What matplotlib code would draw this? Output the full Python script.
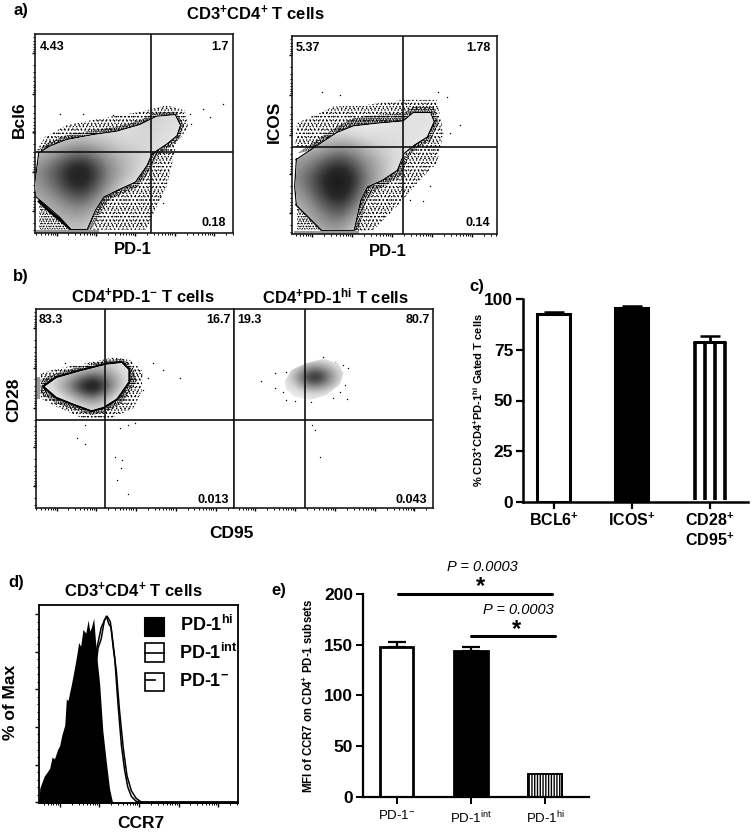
import matplotlib
matplotlib.use('Agg')
import matplotlib.pyplot as plt
from matplotlib.patches import Polygon, Rectangle
from matplotlib.colors import LinearSegmentedColormap
import numpy as np

plt.rcParams['font.family'] = ['Liberation Sans', 'DejaVu Sans']
plt.rcParams['mathtext.default'] = 'regular'

W, H = 755, 833
flow_cmap = LinearSegmentedColormap.from_list('flow', ['white', '#d8d8d8', '#8a8a8a', '#2a2a2a', 'black'])

### flow panels: everything is in channel units of the scan (x, y) ###
a1_outline = [(118,460),(150,440),(200,420),(280,405),(350,395),(420,375),(470,350),(525,345),(540,375),(530,405),(500,430),(455,460),(440,495),(405,545),(350,570),(310,590),(285,630),(260,688),(215,688),(180,650),(140,615),(110,590),(105,560)]
a1_cloud = [(112,450),(135,410),(200,375),(300,355),(420,335),(500,315),(555,330),(565,380),(530,430),(515,500),(500,560),(470,620),(440,690),(280,690),(300,600),(400,520),(300,500)]
a1_band = [(112,450),(150,425),(200,405),(280,390),(350,380),(420,360),(470,335),(530,335),(552,375),(540,415),(510,440),(470,470),(455,505),(415,560),(360,585),(325,600),(300,640),(275,690),(260,690),(285,630),(310,590),(405,545),(455,460),(300,450)]
a1_corner = [(118,605),(150,635),(215,690),(118,690)]
a1_strip = [(112,693),(290,693)]
a1_density = [[0,0,.1,.15,.2,.3,.2],
              [.2,.3,.35,.28,.22,.25,.15],
              [.5,.72,1,.6,.38,.2,0],
              [.3,.45,.62,.35,.05,0,0],
              [.3,.25,.3,.1,0,0,0]]
a1_stray = [(610,325),(630,350),(670,310),(575,370),(570,340),(480,590),(490,610),(430,640),(420,670),(540,400),(180,340),(250,340),(340,345)]

a2_outline = [(890,480),(950,440),(1010,400),(1060,380),(1130,372),(1210,365),(1240,340),(1290,340),(1300,365),(1280,410),(1240,435),(1210,460),(1190,510),(1145,540),(1100,560),(1080,600),(1060,690),(965,690),(890,615),(885,560)]
a2_cloud = [(885,440),(890,370),(1000,320),(1100,315),(1210,300),(1310,300),(1330,400),(1310,490),(1260,540),(1190,620),(1120,690),(1060,695),(1080,560),(1190,500)]
a2_band = [(892,460),(950,420),(1010,380),(1060,355),(1130,345),(1210,340),(1240,320),(1300,320),(1315,365),(1295,420),(1250,445),(1225,470),(1205,525),(1160,555),(1120,575),(1095,615),(1075,690),(1060,690),(1080,600),(1100,560),(1190,510),(1240,435),(1050,430)]
a2_corner = [(890,615),(925,650),(965,690),(890,690)]
a2_strip = [(885,697),(1070,697)]
a2_density = [[0,0,0,0,.1,.2,.18],
              [.3,.32,.45,.32,.25,.2,.1],
              [.5,.78,1,.6,.32,0,0],
              [.25,.48,.7,.3,0,0,0],
              [.25,.3,.3,0,0,0,0]]
a2_stray = [(965,275),(1020,285),(1270,605),(1380,375),(1340,290),(1315,275),(1350,400),(1290,560),(1230,600),(1150,650)]

b1_outline = [(135,365),(170,340),(240,320),(320,300),(365,295),(385,315),(385,350),(350,400),(310,425),(275,435),(220,415),(170,395)]
b1_cloud = [(122,325),(180,310),(260,295),(340,278),(390,285),(430,320),(425,380),(400,430),(330,460),(250,460),(170,425),(122,400)]
b1_band = [(122,345),(170,325),(240,305),(320,287),(370,282),(400,310),(410,350),(365,415),(320,440),(275,450),(210,430),(160,410),(122,385)]
b1_strip = [(115,340),(115,395)]
b1_density = [[0,.05,.1,.2,.25,.1],
              [.05,.2,.38,.6,.38,.1],
              [.1,.25,.6,1,.45,.1],
              [0,.1,.32,.55,.2,0],
              [0,0,.1,.25,.1,0]]
b1_stray = [(460,295),(490,315),(540,340),(230,520),(255,538),(255,480),(345,575),(365,585),(362,608),(350,645),(385,685),(360,490),(385,480),(405,475),(430,375),(445,340),(195,295)]

b2_outline = [(855,350),(875,315),(920,295),(970,282),(1015,295),(1032,325),(1020,360),(980,390),(930,405),(885,395),(860,375)]
b2_density = [[0,0,.05,.05,0],
              [0,.2,.48,.25,.05],
              [.05,.38,1,.38,.05],
              [0,.2,.42,.2,0],
              [0,.02,.1,.02,0]]
b2_stray = [(825,325),(860,320),(785,348),(825,370),(850,382),(860,405),(885,408),(935,412),(1000,400),(1043,403),(1020,380),(1035,360),(1045,310),(1030,300),(970,278),(938,480),(945,495),(960,575),(1005,290)]

### bar charts ###
c_labels = ['BCL6$^{+}$', 'ICOS$^{+}$', 'CD28$^{+}$\nCD95$^{+}$']
c_values = [92.5, 95.5, 79]
c_err = [1, 1, 3]
c_ticks = [0, 25, 50, 75, 100]

e_labels = ['PD-1$^{-}$', 'PD-1$^{int}$', 'PD-1$^{hi}$']
e_values = [148, 144, 22]
e_err = [5, 4, 0]
e_ticks = [0, 50, 100, 150, 200]

### histogram of panel d: log units, % of max ###
hi_x = [0.0,0.02,0.13,0.27,0.33,0.39,0.47,0.52,0.58,0.65,0.69,0.73,0.82,0.90,0.95,1.0,1.05,1.11,1.18,1.24,1.28,1.32,1.38,1.45,1.53,1.61,1.70,1.78,1.85,1.95,5.0]
hi_y = [0,7.4,13.7,18,24,23,28,30,36,41,55,54,63,72,78,85,83,92,90,97,91,93,98,79,63,38,21,7,0.4,0,0]
int_x = [1.3,1.45,1.5,1.57,1.70,1.76,1.82,1.91,1.99,2.08,2.16,2.24,2.33,2.45,2.62,5.0]
int_y = [50,81,86,93,99,95,93,77,53,30,17,8,3,0.4,0,0]
neg_x = [1.3,1.49,1.57,1.65,1.72,1.80,1.88,1.95,2.03,2.13,2.22,2.33,2.45,2.58,5.0]
neg_y = [50,82,87,97,99,96,81,70,49,28,14,6,2,0,0]


def box(left, top, right, bottom):
    return fig.add_axes([left/W, 1-bottom/H, (right-left)/W, (bottom-top)/H])


def log_ticks(majors):
    step = majors[1]-majors[0]
    minor = []
    for m in [majors[0]-step]+majors:
        for k in range(2, 10):
            minor.append(m+step*np.log10(k))
    return minor


def flow(rect, xlim, ylim, vline, hline, outline, density, grid_x, grid_y, xmaj, ymaj, labels, cloud=None, band=None, corner=None, strip=None, stray=None, ring=0):
    ax = box(*rect)
    plt.rcParams['hatch.linewidth'] = 0.55
    # two dot lattices on top of each other so the stipple looks less regular
    if cloud:
        ax.add_patch(Polygon(cloud, closed=True, fc='none', ec='black', lw=0, hatch='....', zorder=1))
        ax.add_patch(Polygon(cloud, closed=True, fc='none', ec='black', lw=0, hatch='.....', zorder=1))
    if band:
        ax.add_patch(Polygon(band, closed=True, fc='none', ec='black', lw=0, hatch='.......', zorder=1))
        ax.add_patch(Polygon(band, closed=True, fc='none', ec='black', lw=0, hatch='.........', zorder=1))
    if corner:
        ax.add_patch(Polygon(corner, closed=True, fc='none', ec='black', lw=0, hatch='.....', zorder=1))
        ax.add_patch(Polygon(corner, closed=True, fc='none', ec='black', lw=0, hatch='.......', zorder=1))
        ax.plot([p[0] for p in corner[:3]], [p[1] for p in corner[:3]], color='black', lw=2.2, zorder=2)
    if ring:
        xs = [p[0] for p in outline]+[outline[0][0]]
        ys = [p[1] for p in outline]+[outline[0][1]]
        ax.plot(xs, ys, color='black', lw=ring, zorder=2)
    face = Polygon(outline, closed=True, fc='white', ec='none', zorder=3)
    ax.add_patch(face)
    dx = (grid_x[1]-grid_x[0])/2
    dy = (grid_y[1]-grid_y[0])/2
    im = ax.imshow(density, cmap=flow_cmap, vmin=0, vmax=0.95, interpolation='bicubic', aspect='auto', zorder=4,
                   extent=(grid_x[0]-dx, grid_x[-1]+dx, grid_y[-1]+dy, grid_y[0]-dy))
    im.set_clip_path(face)
    ax.set_xlim(*xlim)
    ax.set_ylim(*ylim)
    if strip:
        ax.plot([p[0] for p in strip], [p[1] for p in strip], color='#9a9a9a', lw=2.2, zorder=2)
    if stray:
        ax.scatter([p[0] for p in stray], [p[1] for p in stray], s=1.0, color='black', lw=0, zorder=2)
    ax.axvline(vline, color='#111111', lw=1.2, zorder=5)
    ax.axhline(hline, color='#111111', lw=1.2, zorder=5)
    for s in ax.spines.values():
        s.set_linewidth(1.2)
        s.set_color('#1a1a1a')
    ax.set_xticks(xmaj)
    ax.set_xticks([t for t in log_ticks(xmaj) if xlim[0] < t < xlim[1]], minor=True)
    ax.set_xticklabels([])
    if ymaj:
        ax.set_yticks(ymaj)
        ax.set_yticks([t for t in log_ticks(ymaj) if ylim[1] < t < ylim[0]], minor=True)
        ax.set_yticklabels([])
    else:
        ax.set_yticks([])
    ax.tick_params(which='major', length=2.5, width=1)
    ax.tick_params(which='minor', length=1.2, width=0.7)
    for (x, y, t, ha) in labels:
        ax.text(x, y, t, fontsize=9, fontweight='bold', ha=ha, va='center', zorder=6)
    return ax


def lab(x, y, t, **kw):
    kw.setdefault('fontweight', 'bold')
    kw.setdefault('ha', 'center')
    kw.setdefault('va', 'center')
    fig.text(x/W, 1-y/H, t, **kw)


fig = plt.figure(figsize=(W/100, H/100), dpi=100)

### a) ###
lab(21, 11, 'a)', fontsize=12)
lab(255, 13, 'CD3$^{+}$CD4$^{+}$ T cells', fontsize=12)
flow((35, 34, 233, 233), (105, 700), (700, 100), 453, 455, a1_outline, a1_density,
     [105,175,245,315,385,455,525], [345,430,515,600,685],
     [170,288,405,525,643], [157,280,396,517,633],
     [(118,140,'4.43','left'),(688,140,'1.7','right'),(680,670,'0.18','right')],
     cloud=a1_cloud, band=a1_band, corner=a1_corner, strip=a1_strip, stray=a1_stray, ring=1.8)
lab(133, 250, 'PD-1', fontsize=12)
lab(19, 120, 'Bcl6', fontsize=12.5, rotation=90)
flow((292, 36, 497, 234), (875, 1491), (703, 108), 1210, 443, a2_outline, a2_density,
     [885,955,1025,1095,1165,1235,1305], [345,440,535,630,725],
     [935,1055,1175,1295,1415], [165,285,405,522,640],
     [(887,143,'5.37','left'),(1470,143,'1.78','right'),(1470,670,'0.14','right')],
     cloud=a2_cloud, band=a2_band, corner=a2_corner, strip=a2_strip, stray=a2_stray, ring=1.8)
lab(388, 252, 'PD-1', fontsize=12)
lab(274, 122, 'ICOS', fontsize=12.5, rotation=90)

### b) ###
lab(21, 276, 'b)', fontsize=12)
lab(143, 296, 'CD4$^{+}$PD-1$^{-}$ T cells', fontsize=12)
lab(336, 296, 'CD4$^{+}$PD-1$^{hi}$ T cells', fontsize=12)
flow((36, 309, 234, 508), (108, 703), (728, 133), 316, 465, b1_outline, b1_density,
     [100,160,220,280,340,400], [295,330,365,400,435],
     [170,288,408,528,648], [190,308,428,547,663],
     [(116,165,'83.3','left'),(692,165,'16.7','right'),(688,703,'0.013','right')],
     cloud=b1_cloud, band=b1_band, strip=b1_strip, stray=b1_stray, ring=3.2)
flow((234, 309, 433, 508), (703, 1300), (728, 133), 916, 465, b2_outline, b2_density,
     [825,885,945,1005,1065], [270,305,340,375,410],
     [765,885,1005,1125,1243], None,
     [(714,165,'19.3','left'),(1290,165,'80.7','right'),(1283,703,'0.043','right')],
     stray=b2_stray)
lab(231, 534, 'CD95', fontsize=12.5)
lab(14, 400, 'CD28', fontsize=12.5, rotation=90)

### c) ###
lab(477, 286, 'c)', fontsize=12)
axc = box(523, 299, 748, 502)
axc.set_xlim(-0.394, 2.49)
axc.set_ylim(0, 100)
axc.bar(0, c_values[0], width=0.42, facecolor='white', edgecolor='black', lw=2.2, zorder=2)
axc.bar(1, c_values[1], width=0.42, facecolor='black', edgecolor='black', lw=2.2, zorder=2)
axc.bar(2, c_values[2], width=0.42, facecolor='white', edgecolor='none', zorder=2)
axc.hlines(c_values[2], 2-0.21, 2+0.21, color='black', lw=2.2, zorder=3)
axc.vlines(np.linspace(2-0.195, 2+0.195, 4), 1.2, c_values[2], color='black', lw=2.6, zorder=3)
axc.errorbar(range(3), c_values, yerr=[[0, 0, 0], c_err], fmt='none', ecolor='black', elinewidth=2, capsize=7, capthick=1.8, clip_on=False, zorder=1)
axc.set_yticks(c_ticks)
axc.set_xticks(range(3))
axc.set_xticklabels(c_labels, fontsize=11.5, fontweight='bold')
for t in axc.get_yticklabels():
    t.set_fontsize(12.5)
    t.set_fontweight('bold')
axc.tick_params(length=5, width=1.6, pad=2)
axc.spines['top'].set_visible(False)
axc.spines['right'].set_visible(False)
axc.spines['left'].set_linewidth(1.8)
axc.spines['bottom'].set_linewidth(1.8)
lab(478, 400, '% CD3$^{+}$CD4$^{+}$PD-1$^{hi}$ Gated T cells', fontsize=8, rotation=90)

### d) ###
lab(16, 582, 'd)', fontsize=12)
lab(133, 590, 'CD3$^{+}$CD4$^{+}$ T cells', fontsize=12)
axd = box(39, 605, 238, 803)
axd.set_xlim(0, 5.02)
axd.set_ylim(-0.5, 105)
axd.plot(int_x, int_y, color='black', lw=1.1, zorder=2)
axd.plot(neg_x, neg_y, color='black', lw=1.1, zorder=2)
axd.fill_between(hi_x, hi_y, -1, color='black', lw=0, zorder=3)
dx_major = [0.52, 1.52, 2.52, 3.52, 4.52]
axd.set_xticks(dx_major)
axd.set_xticks([t for t in log_ticks(dx_major) if 0 < t < 5.02], minor=True)
axd.set_xticklabels([])
axd.set_yticks([0, 20, 40, 60, 80, 100])
axd.set_yticks(np.arange(0, 101, 4), minor=True)
axd.set_yticklabels([])
axd.tick_params(which='major', length=3, width=1)
axd.tick_params(which='minor', length=1.5, width=0.7)
for s in axd.spines.values():
    s.set_linewidth(1.3)
axd.add_patch(Rectangle((.529, .844), .099, .097, transform=axd.transAxes, fc='black', ec='black', lw=0.8))
axd.add_patch(Rectangle((.535, .711), .095, .099, transform=axd.transAxes, fc='white', ec='black', lw=1.2))
axd.plot([.535, .630], [.760, .760], color='black', lw=1.2, transform=axd.transAxes)
axd.add_patch(Rectangle((.535, .568), .095, .091, transform=axd.transAxes, fc='white', ec='black', lw=1.2))
axd.plot([.540, .585], [.620, .620], color='black', lw=1.2, transform=axd.transAxes)
axd.text(.71, .899, 'PD-1$^{hi}$', fontsize=13, fontweight='bold', va='center', transform=axd.transAxes)
axd.text(.705, .756, 'PD-1$^{int}$', fontsize=13, fontweight='bold', va='center', transform=axd.transAxes)
axd.text(.705, .613, 'PD-1$^{-}$', fontsize=13, fontweight='bold', va='center', transform=axd.transAxes)
lab(141, 823, 'CCR7', fontsize=12.5)
lab(11, 702, '% of Max', fontsize=12.5, rotation=90)

### e) ###
lab(279, 590, 'e)', fontsize=12)
axe = box(362.7, 594, 589, 796.7)
axe.set_xlim(-0.458, 2.59)
axe.set_ylim(0, 200)
plt.rcParams['hatch.linewidth'] = 1.0
axe.bar(0, e_values[0], width=0.45, facecolor='white', edgecolor='black', lw=2.0, zorder=2)
axe.bar(1, e_values[1], width=0.45, facecolor='black', edgecolor='black', lw=2.0, zorder=2)
axe.bar(2, e_values[2], width=0.45, facecolor='white', edgecolor='black', lw=1.4, hatch='||||||', zorder=2)
axe.errorbar(range(2), e_values[:2], yerr=[[0, 0], e_err[:2]], fmt='none', ecolor='black', elinewidth=1.6, capsize=6.5, capthick=1.6, zorder=1)
axe.plot([0.02, 2.09], [200.3, 200.3], color='black', lw=2.2, clip_on=False, solid_capstyle='round')
axe.plot([1.0, 2.13], [159, 159], color='black', lw=2.2, clip_on=False, solid_capstyle='round')
axe.set_yticks(e_ticks)
axe.set_xticks(range(3))
axe.set_xticklabels(e_labels, fontsize=9.5)
for t in axe.get_yticklabels():
    t.set_fontsize(12.5)
    t.set_fontweight('bold')
axe.tick_params(length=5, width=1.4, pad=2)
axe.tick_params(axis='x', pad=4)
axe.spines['top'].set_visible(False)
axe.spines['right'].set_visible(False)
axe.spines['left'].set_linewidth(1.6)
axe.spines['bottom'].set_linewidth(1.6)
lab(309, 696, 'MFI of CCR7 on CD4$^{+}$ PD-1 subsets', fontsize=8.3, fontweight='bold', rotation=90)
lab(482, 567, 'P = 0.0003', fontsize=10.5, fontweight='normal', fontstyle='italic')
lab(480, 587, '*', fontsize=17)
lab(518, 610, 'P = 0.0003', fontsize=10.5, fontweight='normal', fontstyle='italic')
lab(516, 630, '*', fontsize=17)

plt.savefig('out.png', dpi=100)
